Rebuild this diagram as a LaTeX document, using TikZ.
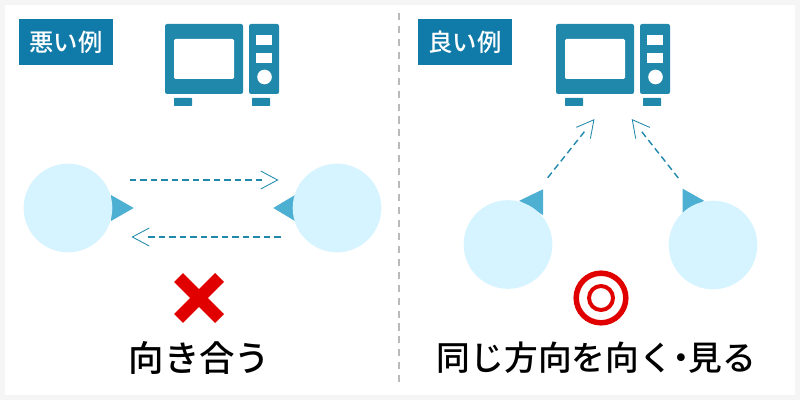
\documentclass[tikz,border=0pt]{standalone}
\usepackage{color,xcolor}
\usepackage{fontspec}
\newfontfamily\jpfont{Noto Sans CJK JP Medium}
\usetikzlibrary{arrows.meta,decorations.markings}

\definecolor{pagegray}{HTML}{F5F5F5}
\definecolor{tagblue}{HTML}{107BA8}
\definecolor{ovenblue}{HTML}{2088AB}
\definecolor{facecyan}{HTML}{D5F4FF}
\definecolor{nosecyan}{HTML}{4DB0D2}
\definecolor{markred}{HTML}{E00000}

\tikzset{
  person/.style={circle, fill=facecyan, inner sep=0pt, minimum size=2.215cm},
  nose/.style={fill=nosecyan},
  tag/.style={fill=tagblue, text=white, inner sep=0pt, minimum width=2.35cm, minimum height=1.15cm,
    font=\jpfont\fontsize{17.3}{17.3}\selectfont},
  caption/.style={inner sep=0pt, font=\jpfont\fontsize{24}{24}\selectfont},
  gaze/.style={ovenblue, line width=1pt, dash pattern=on 4.6pt off 2.85pt, shorten >=11.5pt,
    decoration={markings, mark=at position 1 with {\arrow[ovenblue, line width=.6pt, solid]{Straight Barb[length=12pt, width=12.8pt]}}},
    postaction={decorate}},
}

\begin{document}
\begin{tikzpicture}[x=.025cm, y=-.025cm]
\fill[pagegray] (0,0) rectangle (800,400);
\fill[white] (5,5) rectangle (795,395);
\draw[black!27, line width=1.6pt, dash pattern=on 5pt off 4.2pt] (398.7,13) -- (398.7,384);

\node[tag] (badtag) at (66,42) {悪い例};
\node[tag] (goodtag) at (465,42) {良い例};

% ovens
\foreach \x in {165,556} {
\begin{scope}[shift={(\x,0)}]
\fill[ovenblue, rounded corners=1.5pt] (0,24) rectangle (78,94);
\fill[ovenblue, rounded corners=1.5pt] (84,24) rectangle (114,94);
\fill[white, rounded corners=1pt] (9,39) rectangle (69,79);
\fill[white] (91,35) rectangle (107,45);
\fill[white] (91,53) rectangle (107,63);
\fill[white] (99.5,77) circle (.1825cm);
\fill[ovenblue, rounded corners=.5pt] (9,98) rectangle (27,106);
\fill[ovenblue, rounded corners=.5pt] (87,98) rectangle (105,106);
\end{scope}
}

% noses go under the faces
\fill[nose] (111,195) -- (133.7,208) -- (111,221) -- cycle;
\fill[nose] (295,195) -- (273.3,208) -- (295,221) -- cycle;
\fill[nose] (543,189.3) -- (519.3,200.7) -- (543,215) -- cycle;
\fill[nose] (682.7,188.7) -- (704,200.7) -- (682.7,215) -- cycle;

\node[person] (faceA) at (68,208) {};
\node[person] (faceB) at (337,208) {};
\node[person] (faceC) at (508,244.5) {};
\node[person] (faceD) at (713,245) {};

\coordinate (A) at (130,180);
\coordinate (A') at (278.5,180);
\coordinate (B) at (280.5,237);
\coordinate (B') at (131.5,237);
\coordinate (C) at (547.7,177.7);
\coordinate (C') at (594.5,119);
\coordinate (D) at (678.3,178);
\coordinate (D') at (631.7,119);

\draw[gaze] (A) -- (A');
\draw[gaze] (B) -- (B');
\draw[gaze] (C) -- (C');
\draw[gaze] (D) -- (D');

% cross
\draw[markred, line width=9pt] (178.5,277.5) -- (219.5,318.5);
\draw[markred, line width=9pt] (219.5,277.5) -- (178.5,318.5);

% double circle
\draw[markred, line width=3.9pt] (601,298) circle (.62cm);
\draw[markred, line width=2.8pt] (601,298) circle (.3cm);

\node[caption, font=\jpfont\fontsize{25.2}{25.2}\selectfont] (badtext) at (199.5,358) {向き合う};
\node[caption] (goodtext) at (596.5,358) {同じ方向を向く\kern-.27em・\kern-.27em見る};
\end{tikzpicture}
\end{document}
